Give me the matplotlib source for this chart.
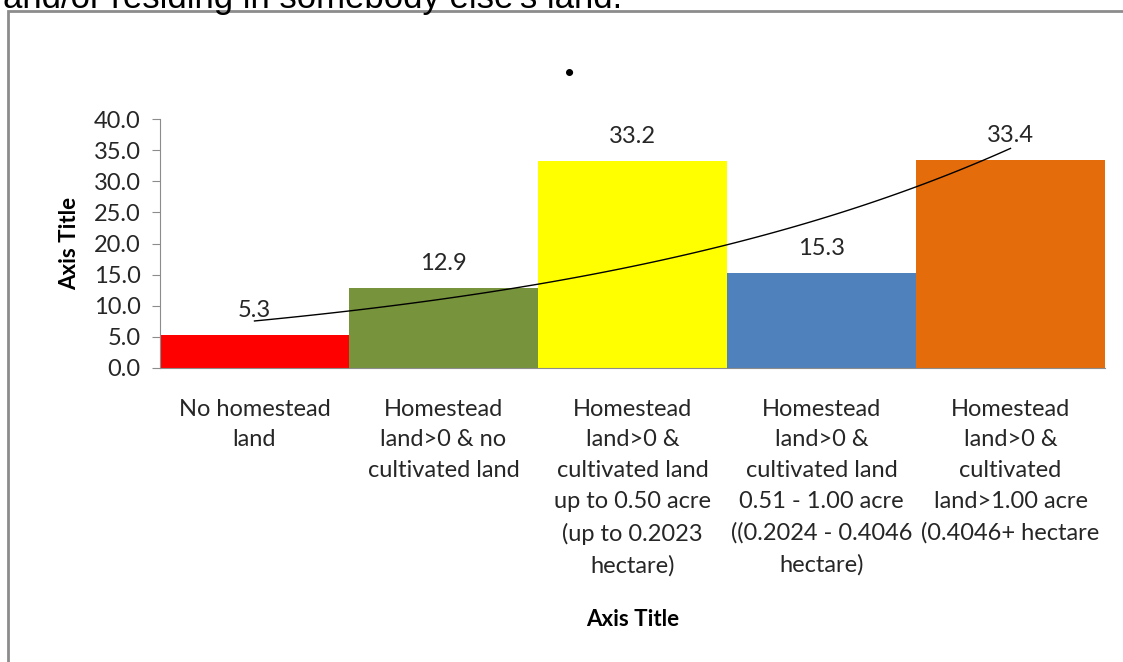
import numpy as np
import matplotlib.pyplot as plt
from matplotlib.patches import Rectangle

categories = ['No homestead\nland',
              'Homestead\nland>0 & no\ncultivated land',
              'Homestead\nland>0 &\ncultivated land\nup to 0.50 acre\n(up to 0.2023\nhectare)',
              'Homestead\nland>0 &\ncultivated land\n0.51 - 1.00 acre\n((0.2024 - 0.4046\nhectare)',
              'Homestead\nland>0 &\ncultivated\nland>1.00 acre\n(0.4046+ hectare']
values = [5.3, 12.9, 33.2, 15.3, 33.4]
colors = ['#FF0000', '#77933C', '#FFFF00', '#4F81BD', '#E46C0A']

plt.rcParams['font.family'] = ['Lato', 'DejaVu Sans']

fig = plt.figure(figsize=(11.23, 6.62), dpi=100)

# outer chart frame (partly cut off like the screenshot)
fig.patches.append(Rectangle((8 / 1123, -0.05), 1.2, (662 - 11) / 662 + 0.05,
                             transform=fig.transFigure, fill=False,
                             edgecolor='#8c8c8c', linewidth=2))
fig.text(0.003, 1 - 8 / 662, "and/or residing in somebody else's land.",
         fontsize=25, family='Liberation Sans', va='baseline', ha='left')
fig.text(570 / 1123, 1 - 76 / 662, '.', fontsize=34, fontweight='bold',
         ha='center', va='baseline')

ax = fig.add_axes([160 / 1123, 1 - 368 / 662, (1105 - 160) / 1123, (368 - 119) / 662])
x = np.arange(len(values))
ax.bar(x, values, width=1.0, color=colors)

for xi, v in zip(x, values):
    ax.annotate('%.1f' % v, (xi, v), xytext=(0, 10), textcoords='offset points',
                ha='center', va='bottom', fontsize=17, color='#262626')

# exponential trendline
coef = np.polyfit(x + 1, np.log(values), 1)
xt = np.linspace(0, 4, 100)
ax.plot(xt, np.exp(coef[1] + coef[0] * (xt + 1)), color='black', linewidth=1)

ax.set_xlim(-0.5, 4.5)
ax.set_ylim(0, 40)
ax.set_yticks(np.arange(0, 40.1, 5))
ax.set_yticklabels(['%.1f' % t for t in np.arange(0, 40.1, 5)])
ax.set_xticks(x)
ax.set_xticklabels(categories, linespacing=1.58)
ax.tick_params(axis='x', length=0, pad=22, labelsize=17, colors='#262626')
ax.tick_params(axis='y', length=6, pad=8, color='#8c8c8c', labelsize=17, labelcolor='#262626')
for s in ['top', 'right']:
    ax.spines[s].set_visible(False)
ax.spines['left'].set_color('#8c8c8c')
ax.spines['bottom'].set_color('#8c8c8c')

ax.set_ylabel('Axis Title', fontsize=16, fontweight='bold', labelpad=10)
fig.text(633 / 1123, 1 - 620 / 662, 'Axis Title', fontsize=16, fontweight='bold',
         ha='center', va='center')

fig.savefig('out.png', dpi=100)
